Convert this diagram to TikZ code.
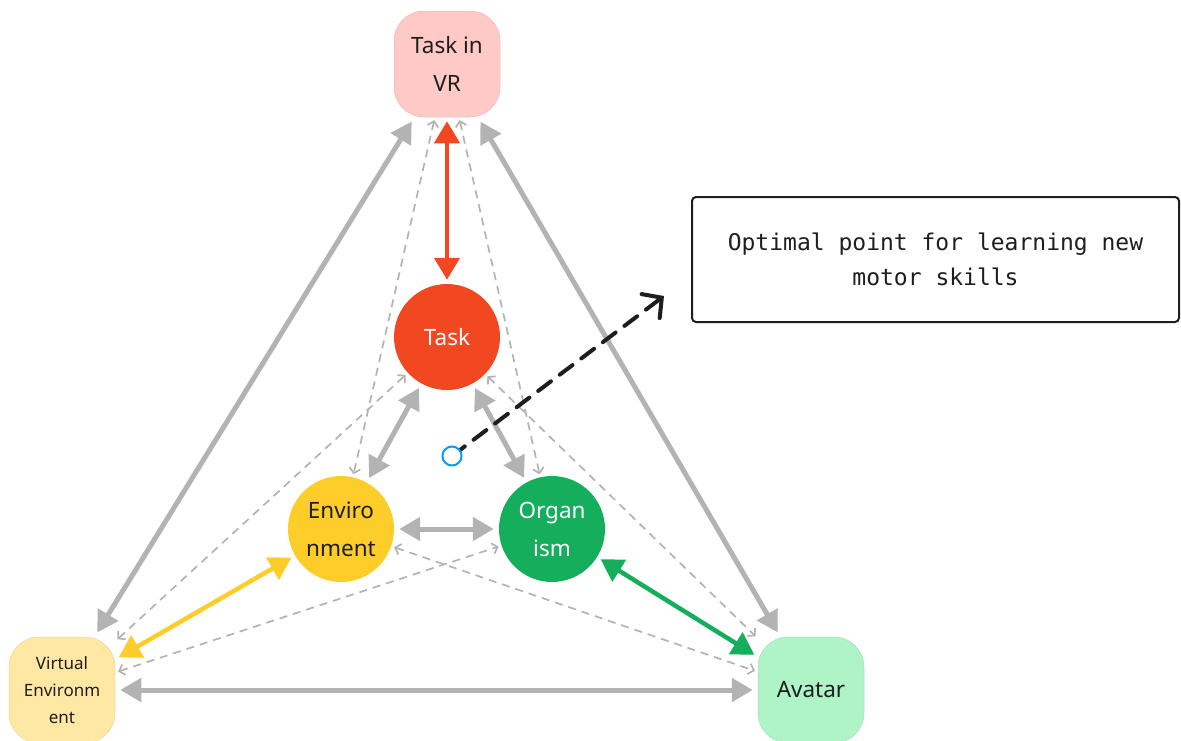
\documentclass[tikz,border=0pt]{standalone}
\usepackage{fontspec}
\setmainfont{Noto Sans}
\setmonofont{DejaVu Sans Mono}
\usepackage{tikz}
\usetikzlibrary{arrows.meta}
\definecolor{ink}{HTML}{1E1E1E}
\definecolor{linkgray}{HTML}{B3B3B3}
\definecolor{taskred}{HTML}{F24822}
\definecolor{envyellow}{HTML}{FFCD29}
\definecolor{orggreen}{HTML}{14AE5C}
\definecolor{vrpink}{HTML}{FFC9C6}
\definecolor{vepale}{HTML}{FFE8A3}
\definecolor{avmint}{HTML}{AFF4C6}
\definecolor{dotblue}{HTML}{0D99FF}

\begin{document}
\begin{tikzpicture}[x=1pt,y=-1pt,
    every node/.style={text=ink,inner sep=0pt,align=center,font=\fontsize{22.5}{38}\selectfont},
    blob/.style={circle,minimum size=106pt,fill=#1},
    tile/.style={rounded corners=30pt,minimum width=106pt,minimum height=106pt,
                 fill=#1,draw=#1!92!black,line width=0.5pt},
    graylink/.style={draw=linkgray,line width=5pt,<->,>={Triangle[length=21pt,width=23pt]},
                     shorten <=5pt,shorten >=5pt},
    dashlink/.style={draw=linkgray,line width=1.7pt,dash pattern=on 8pt off 6pt,<->,
                     >={Straight Barb[length=5pt,width=11pt]},shorten <=3pt,shorten >=3pt},
    colorlink/.style={draw=#1,line width=4.5pt,<->,>={Triangle[length=22pt,width=25pt]},
                      shorten <=4pt,shorten >=4pt},
    pointer/.style={draw=ink,line width=4pt,dash pattern=on 16pt off 11pt,line cap=round,
                    -{Straight Barb[length=14pt,width=30pt,line cap=round]}}]
  \useasboundingbox (0,0) rectangle (1181,740);

  \node (tvr) [tile=vrpink] at (447,64) {Task in\\VR};
  \node (task) [blob=taskred,text=white] at (447,337) {Task};
  \node (env) [blob=envyellow] at (341,529) {Enviro\\nment};
  \node (org) [blob=orggreen,text=white] at (552,529) {Organ\\ism};
  \node (ve) [tile=vepale,font=\fontsize{17}{27}\selectfont] at (62,690) {Virtual\\Environm\\ent};
  \node (av) [tile=avmint] at (811,690) {Avatar};

  \foreach \a/\b in {tvr/ve,tvr/av,ve/av,task/env,task/org,env/org}
    \draw[graylink] (\a) -- (\b);
  \foreach \a/\b in {tvr/env,tvr/org,ve/task,ve/org,env/av,task/av}
    \draw[dashlink] (\a) -- (\b);
  \draw[colorlink=taskred] (tvr) -- (task);
  \draw[colorlink=envyellow] (env) -- (ve);
  \draw[colorlink=orggreen] (org) -- (av);

  \node (note) [draw=ink,line width=2pt,rounded corners=4pt,minimum width=487pt,minimum height=125pt,
                font=\ttfamily\fontsize{23}{35}\selectfont] at (935.5,259.5)
    {Optimal point for learning new\\motor skills};
  \coordinate (tip) at (664,296);
  \draw[pointer] (452,456) -- (tip);
  \node (pt) [circle,draw=dotblue,line width=2pt,fill=white,minimum size=19pt] at (452,456) {};
\end{tikzpicture}
\end{document}
